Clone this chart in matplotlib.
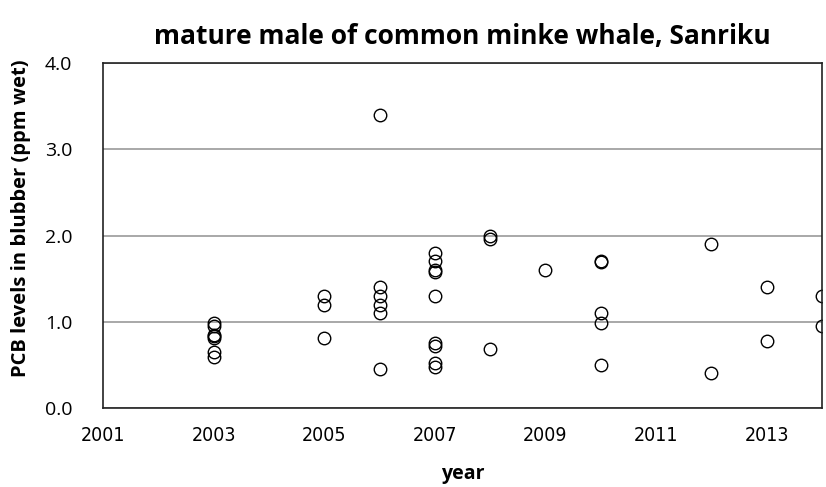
import matplotlib
matplotlib.use("Agg")
import matplotlib.pyplot as plt

years_2003 = [0.99, 0.95, 0.85, 0.83, 0.81, 0.65, 0.59]
years_2005 = [1.30, 1.20, 0.81]
years_2006 = [3.40, 1.40, 1.30, 1.20, 1.10, 0.45]
years_2007 = [1.80, 1.70, 1.60, 1.58, 1.30, 0.75, 0.72, 0.52, 0.47]
years_2008 = [2.00, 1.96, 0.68]
years_2009 = [1.60]
years_2010 = [1.70, 1.69, 1.10, 0.98, 0.50]
years_2012 = [1.90, 0.41]
years_2013 = [1.40, 0.78]
years_2014 = [1.30, 0.95]

data = {2003: years_2003, 2005: years_2005, 2006: years_2006, 2007: years_2007,
        2008: years_2008, 2009: years_2009, 2010: years_2010, 2012: years_2012,
        2013: years_2013, 2014: years_2014}

xticks = [2001, 2003, 2005, 2007, 2009, 2011, 2013]
yticks = [0.0, 1.0, 2.0, 3.0, 4.0]

xs, ys = [], []
for yr, vals in data.items():
    for v in vals:
        xs.append(yr)
        ys.append(v)

fig = plt.figure(figsize=(8.26, 4.87), dpi=100)
ax = fig.add_axes([0.1247, 0.1622, 0.8705, 0.7084])
ax.set_xlim(2001, 2014)
ax.set_ylim(0, 4)
ax.yaxis.grid(True, color="#999999", linewidth=1.2)
ax.set_axisbelow(True)
ax.plot(xs, ys, linestyle="none", marker="o", markersize=9, markerfacecolor="none",
        markeredgecolor="black", markeredgewidth=1.0)
ax.set_xticks(xticks)
ax.set_xticklabels([str(t) for t in xticks])
ax.set_yticks(yticks)
ax.set_yticklabels([f"{t:.1f}" for t in yticks])
ax.tick_params(axis="x", length=0, pad=13)
ax.tick_params(axis="y", length=0, pad=22)
for lab in ax.get_xticklabels():
    lab.set_family(["DejaVu Sans"])
    lab.set_stretch("condensed")
    lab.set_fontsize(14)
for lab in ax.get_yticklabels():
    lab.set_family(["Open Sans", "DejaVu Sans"])
    lab.set_fontsize(14)
for s in ax.spines.values():
    s.set_color("#222222")
    s.set_linewidth(1.2)

ax.set_title("mature male of common minke whale, Sanriku", fontsize=19, fontweight="bold",
             family=["Open Sans", "DejaVu Sans"], pad=14)
ax.set_xlabel("year", fontsize=14, fontweight="bold", family=["Open Sans", "DejaVu Sans"])
ax.xaxis.label.set_va("center")
ax.xaxis.set_label_coords(0.5, -0.19)
ax.set_ylabel("PCB levels in blubber (ppm wet)", fontsize=14.5, fontweight="bold",
              family=["Open Sans", "DejaVu Sans"])
ax.yaxis.set_label_coords(-0.10, 0.55)
fig.savefig("out.png", dpi=100)
